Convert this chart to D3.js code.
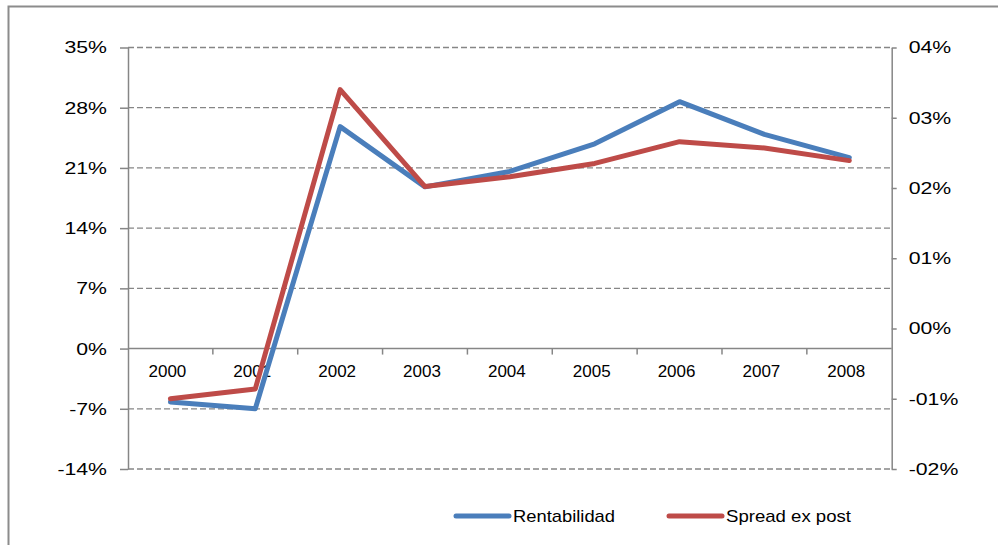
<!DOCTYPE html>
<html>
<head>
<meta charset="utf-8">
<script src="https://cdn.jsdelivr.net/npm/d3@7"></script>
<style>
  html, body { margin: 0; padding: 0; background: #fff; }
  svg { display: block; font-family: "Liberation Sans", Arial, sans-serif; }
</style>
</head>
<body>
<svg id="chart" width="998" height="545"></svg>
<script>
// Years on the category axis
const years = ["2000", "2001", "2002", "2003", "2004", "2005", "2006", "2007", "2008"];
// Rentabilidad, in percent (left axis)
const rentabilidad = [-6.2, -7.0, 25.8, 18.8, 20.6, 23.8, 28.7, 24.9, 22.2];
// Spread ex post, in percent (right axis)
const spreadExPost = [-1.00, -0.86, 3.40, 2.02, 2.16, 2.35, 2.66, 2.57, 2.39];
// Axis ticks and their labels
const leftTicks = [-14, -7, 0, 7, 14, 21, 28, 35];
const leftTickLabels = ["-14%", "-7%", "0%", "7%", "14%", "21%", "28%", "35%"];
const rightTicks = [-2, -1, 0, 1, 2, 3, 4];
const rightTickLabels = ["-02%", "-01%", "00%", "01%", "02%", "03%", "04%"];
const seriesNames = ["Rentabilidad", "Spread ex post"];
const titleText = "2000 - 2008";

const svg = d3.select("#chart");
const axisColor = "#868686";
const colors = ["#4a7ebb", "#be4b48"];
const fontSize = 17;
const valueLabelStretch = 1.25;   // value-axis labels are drawn wide

const plot = { left: 128, right: 891.7, top: 47.5, bottom: 469 };

const x = d3.scaleBand().domain(years).range([plot.left, plot.right]);
const yL = d3.scaleLinear().domain([-14, 35]).range([plot.bottom, plot.top]);
const yR = d3.scaleLinear().domain([-2, 4]).range([plot.bottom, plot.top]);

// Outer frame (top and left edges visible)
svg.append("path")
  .attr("d", "M8.5,545 L8.5,6.5 L998,6.5")
  .attr("fill", "none").attr("stroke", "#8c8c8c").attr("stroke-width", 2);

// Title, sitting above the top edge
svg.append("text")
  .attr("x", 536).attr("y", 0.3)
  .attr("text-anchor", "middle")
  .attr("font-size", 24).attr("font-weight", "bold")
  .attr("fill", "#404040")
  .text(titleText);

// Dashed horizontal gridlines
svg.append("g").selectAll("line")
  .data(leftTicks.filter(d => d !== 0))
  .join("line")
  .attr("x1", plot.left).attr("x2", plot.right)
  .attr("y1", d => yL(d)).attr("y2", d => yL(d))
  .attr("stroke", axisColor).attr("stroke-width", 1.3)
  .attr("stroke-dasharray", "6,3");

function styleAxis(g, labelX) {
  g.selectAll(".domain").attr("stroke", axisColor).attr("stroke-width", 1.5);
  g.selectAll(".tick line").attr("stroke", axisColor).attr("stroke-width", 1.5);
  g.selectAll(".tick text").attr("fill", "#000").attr("font-size", fontSize)
    .attr("font-family", "'Liberation Sans', Arial, sans-serif")
    .attr("x", labelX / valueLabelStretch)
    .attr("transform", `scale(${valueLabelStretch},1)`);
}

// Left axis
const leftAxis = d3.axisLeft(yL).tickValues(leftTicks)
  .tickFormat((d, i) => leftTickLabels[i]).tickSizeInner(8).tickSizeOuter(0);
svg.append("g").attr("transform", `translate(${plot.left},0)`)
  .call(leftAxis).call(g => styleAxis(g, -21));

// Right axis
const rightAxis = d3.axisRight(yR).tickValues(rightTicks)
  .tickFormat((d, i) => rightTickLabels[i]).tickSizeInner(5).tickSizeOuter(0);
svg.append("g").attr("transform", `translate(${plot.right},0)`)
  .call(rightAxis).call(g => styleAxis(g, 17));

// Category axis along the zero line, ticks between categories
const xAxisG = svg.append("g").attr("transform", `translate(0,${yL(0)})`);
xAxisG.append("line")
  .attr("x1", plot.left).attr("x2", plot.right)
  .attr("stroke", axisColor).attr("stroke-width", 1.5);
xAxisG.selectAll("line.sep")
  .data(years.slice(1))
  .join("line").attr("class", "sep")
  .attr("x1", d => x(d)).attr("x2", d => x(d))
  .attr("y1", 0).attr("y2", 6)
  .attr("stroke", axisColor).attr("stroke-width", 1.5);
xAxisG.selectAll("text")
  .data(years)
  .join("text")
  .attr("x", d => x(d) + x.bandwidth() / 2 - 3)
  .attr("y", 28)
  .attr("text-anchor", "middle")
  .attr("font-size", fontSize)
  .attr("fill", "#000")
  .text(d => d);

// Series lines
const lineL = d3.line().x((d, i) => x(years[i]) + x.bandwidth() / 2).y(d => yL(d));
const lineR = d3.line().x((d, i) => x(years[i]) + x.bandwidth() / 2).y(d => yR(d));

svg.append("path").datum(rentabilidad)
  .attr("d", lineL).attr("fill", "none")
  .attr("stroke", colors[0]).attr("stroke-width", 5)
  .attr("stroke-linejoin", "round").attr("stroke-linecap", "round");
svg.append("path").datum(spreadExPost)
  .attr("d", lineR).attr("fill", "none")
  .attr("stroke", colors[1]).attr("stroke-width", 5)
  .attr("stroke-linejoin", "round").attr("stroke-linecap", "round");

// Legend
const legendItems = [
  { name: seriesNames[0], color: colors[0], x: 456 },
  { name: seriesNames[1], color: colors[1], x: 669 }
];
const lg = svg.append("g");
legendItems.forEach(it => {
  lg.append("line")
    .attr("x1", it.x).attr("x2", it.x + 53)
    .attr("y1", 516).attr("y2", 516)
    .attr("stroke", it.color).attr("stroke-width", 5)
    .attr("stroke-linecap", "round");
  lg.append("text")
    .attr("x", it.x + 57).attr("y", 522)
    .attr("font-size", fontSize)
    .attr("textLength", it.name === seriesNames[0] ? 102 : 125)
    .attr("lengthAdjust", "spacingAndGlyphs")
    .attr("fill", "#000")
    .text(it.name);
});
</script>
</body>
</html>
